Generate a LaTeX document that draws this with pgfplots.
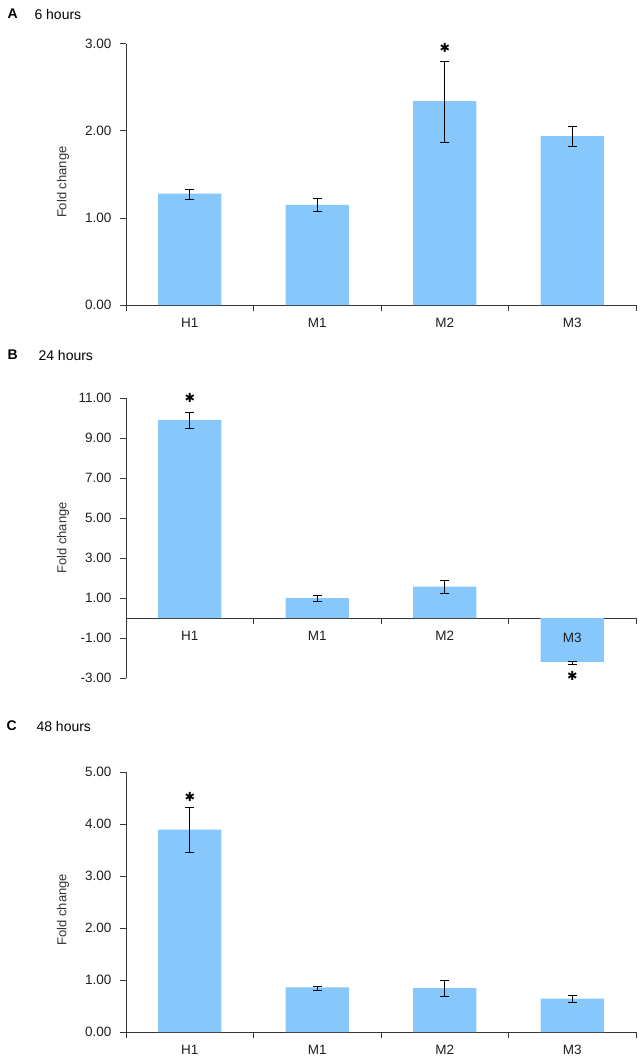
\documentclass[border=0pt]{standalone}
\usepackage{pgfplots}
\usepackage{pgfplotstable}
\pgfplotsset{compat=1.18}
\usepackage{fontspec}
\setmainfont{Liberation Sans}
\newfontfamily\dejavu{DejaVu Sans}
\definecolor{barblue}{RGB}{134,200,252}
\definecolor{axgray}{RGB}{55,55,55}

\pgfplotstableread{
x y ep em
0 1.28 0.05 0.07
1 1.15 0.07 0.07
2 2.34 0.46 0.47
3 1.94 0.11 0.12
}\dataA
\pgfplotstableread{
x y ep em
0 9.89 0.40 0.40
1 1.00 0.15 0.15
2 1.57 0.30 0.33
3 -2.19 0.00 0.12
}\dataB
\pgfplotstableread{
x y ep em
0 3.89 0.43 0.44
1 0.857 0.03 0.05
2 0.844 0.15 0.16
3 0.64 0.06 0.07
}\dataC

\pgfplotsset{
 panel/.style={
  scale only axis, width=510pt,
  xmin=-0.5, xmax=3.5, clip=false,
  tick style={axgray, line width=0.8pt},
  major tick length=6pt,
  xtick={-0.5,0.5,1.5,2.5,3.5},
  xticklabels={},
  extra x ticks={0,1,2,3},
  extra x tick labels={H1,M1,M2,M3},
  extra x tick style={major tick length=0pt},
  ticklabel style={font=\fontsize{13.5}{15}\selectfont, text=black!88},
  xticklabel style={yshift=-10pt},
  yticklabel style={xshift=-5pt},
  /pgf/number format/.cd, fixed, fixed zerofill, precision=2, assume math mode=true,
  /pgfplots/.cd,
  ylabel={Fold change},
  ylabel style={font=\fontsize{13}{15}\selectfont, text=black!80, anchor=center, rotate=0},
 },
 fin/.style={axis line style={-, axgray, line width=0.8pt}, tick align=outside},
 bars/.style={ybar, bar width=0.495, fill=barblue, draw=none,
  error bars/.cd, y dir=both, y explicit,
  error bar style={draw=black, line width=0.7pt},
  error mark options={draw=black, rotate=90, mark size=4.5pt, line width=0.7pt}},
}

\begin{document}
\begin{tikzpicture}
\useasboundingbox (0,0) rectangle (642pt,-1061pt);
\tikzset{ttl/.style={anchor=west, font=\fontsize{14}{16}\selectfont},
  star/.style={font=\dejavu\fontsize{12.5}{12.5}\selectfont}}
% Panel A
\node[ttl] at (4pt,-14pt) {\textbf{A}};
\node[ttl] at (31pt,-14pt) {6 hours};
\begin{axis}[panel, at={(126pt,-305pt)}, anchor=south west, height=261.3pt,
  axis lines=left, fin, ymin=0, ymax=3, ytick={0,1,2,3},
  ylabel style={at={(axis description cs:-0.1235,0.47)}}]
\addplot[bars] table[x=x, y=y, y error plus=ep, y error minus=em]{\dataA};
\node[star] at (axis cs:2,2.95) {✱};
\end{axis}
% Panel B
\node[ttl] at (4pt,-355pt) {\textbf{B}};
\node[ttl] at (35pt,-355pt) {24 hours};
\begin{axis}[panel, at={(126pt,-678pt)}, anchor=south west, height=280pt,
  axis y line=left, axis x line=middle, fin,
  extra x tick labels={H1,M1,M2,{}},
  ymin=-3, ymax=11, ytick={-3,-1,1,3,5,7,9,11},
  ylabel style={at={(axis description cs:-0.1235,0.5)}}]
\addplot[bars] table[x=x, y=y, y error plus=ep, y error minus=em]{\dataB};
\node[font=\fontsize{13.5}{15}\selectfont, text=black!88, yshift=-19.5pt] at (axis cs:3,0) {M3};
\node[star] at (axis cs:0,11.0) {✱};
\node[star] at (axis cs:3,-2.92) {✱};
\end{axis}
% Panel C
\node[ttl] at (3pt,-726pt) {\textbf{C}};
\node[ttl] at (33pt,-726pt) {48 hours};
\begin{axis}[panel, at={(126pt,-1032pt)}, anchor=south west, height=260pt,
  axis lines=left, fin, ymin=0, ymax=5, ytick={0,1,2,3,4,5},
  ylabel style={at={(axis description cs:-0.1235,0.47)}}]
\addplot[bars] table[x=x, y=y, y error plus=ep, y error minus=em]{\dataC};
\node[star] at (axis cs:0,4.53) {✱};
\end{axis}
\end{tikzpicture}
\end{document}
